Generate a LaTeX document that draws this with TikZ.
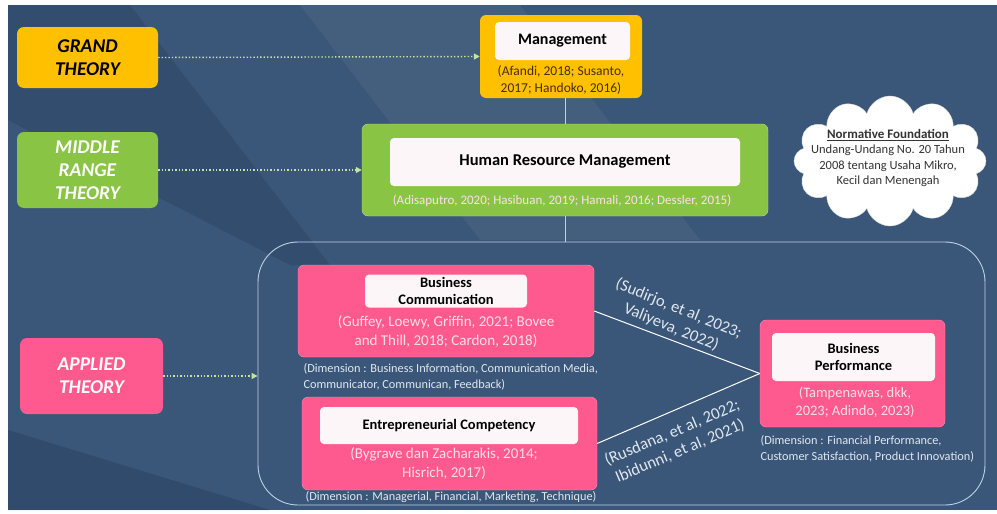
\documentclass[tikz,border=0pt]{standalone}
\usepackage{fontspec}
\setmainfont{Carlito}
\usetikzlibrary{shapes.symbols,arrows.meta}

\definecolor{bgblue}{RGB}{58,86,120}
\definecolor{bgdark}{RGB}{40,62,96}
\definecolor{gyellow}{RGB}{255,192,0}
\definecolor{mgreen}{RGB}{138,196,68}
\definecolor{apink}{RGB}{255,90,143}
\definecolor{inwhite}{RGB}{252,246,248}
\definecolor{dotgreen}{RGB}{196,228,160}
\definecolor{citebrown}{RGB}{70,45,0}
\definecolor{citelight}{RGB}{255,222,232}
\definecolor{dimtext}{RGB}{225,232,240}
\definecolor{framecol}{RGB}{190,210,230}

\begin{document}
\begin{tikzpicture}[x=1pt,y=-1pt,
  theory/.style={rounded corners=7pt, inner sep=0pt, align=center,
    minimum width=141pt, font=\fontsize{19.5}{23}\selectfont\bfseries\itshape},
  outer/.style={rounded corners=6pt, inner sep=0pt},
  inbox/.style={fill=inwhite, rounded corners=4pt, inner sep=0pt, align=center,
    text=black, font=\fontsize{14.5}{17}\selectfont\bfseries},
  cite/.style={align=center, font=\fontsize{15}{19}\selectfont},
  dim/.style={align=left, anchor=north west, text=dimtext,
    font=\fontsize{12.3}{15.5}\selectfont},
  dotarrow/.style={draw=dotgreen, line width=1.4pt, dotted,
    -{Triangle[length=6pt,width=6pt,fill=dotgreen]}},
  link/.style={draw=white, line width=1pt},
  rel/.style={text=dimtext, align=center, font=\fontsize{16.5}{20}\selectfont}]

\useasboundingbox (0,0) rectangle (997,514);
\fill[bgblue] (8,5) rectangle (997,510);
\fill[bgdark, opacity=0.35] (8,5) -- (130,5) -- (330,265) -- (290,265) -- (8,120) -- cycle;
\fill[bgdark, opacity=0.45] (8,430) -- (8,510) -- (270,510) -- cycle;
\fill[white, opacity=0.05] (300,5) -- (520,5) -- (700,240) -- (480,240) -- cycle;

\node[theory, fill=gyellow, text=black, minimum height=61pt] (grand) at (87.5,57.5) {GRAND\\THEORY};
\node[theory, fill=mgreen, text=white, minimum height=76pt] (middle) at (87.5,170) {MIDDLE\\RANGE\\THEORY};
\node[theory, fill=apink, text=white, minimum width=143pt, minimum height=76pt] (applied) at (91.5,376) {APPLIED\\THEORY};

\node[outer, fill=gyellow, minimum width=162pt, minimum height=83pt] (mgmt) at (561,56.5) {};
\node[inbox, font=\fontsize{16}{18}\selectfont\bfseries, minimum width=135pt, minimum height=38pt] (mgmtin) at (562.5,41) {Management};
\node[cite, text=citebrown, font=\fontsize{13.5}{17}\selectfont] (mgmtcite) at (561,80.5) {(Afandi, 2018; Susanto,\\2017; Handoko, 2016)};

\node[outer, fill=mgreen, draw=mgreen!60!white, minimum width=406pt, minimum height=92pt] (hrm) at (565,170) {};
\node[inbox, font=\fontsize{16.5}{19}\selectfont\bfseries, minimum width=350pt, minimum height=48pt] (hrmin) at (565,162) {Human Resource Management};
\node[cite, text=citelight, font=\fontsize{13}{15}\selectfont] (hrmcite) at (562,201) {(Adisaputro, 2020; Hasibuan, 2019; Hamali, 2016; Dessler, 2015)};

\node[cloud, cloud puffs=12, aspect=1.5, fill=white, draw=white!85!black, minimum width=192pt, minimum height=130pt] (norm) at (890,161) {};
\node[align=center, text=black!80, font=\fontsize{12.5}{15.5}\selectfont] (normtext) at (888,158)
  {{\fontsize{13}{15.5}\selectfont\bfseries\underline{Normative Foundation}}\\Undang-Undang No. 20 Tahun\\2008 tentang Usaha Mikro,\\Kecil dan Menengah};

\node[draw=framecol, line width=0.9pt, rounded corners=40pt, minimum width=727pt, minimum height=263pt] (frame) at (621.5,373.5) {};

\node[outer, fill=apink, draw=apink!70!white, minimum width=296pt, minimum height=92pt] (bc) at (446,311) {};
\node[inbox, minimum width=162pt, minimum height=33pt] (bcin) at (446,291) {Business\\Communication};
\node[cite, text=citelight] (bccite) at (446,332) {(Guffey, Loewy, Griffin, 2021; Bovee\\and Thill, 2018; Cardon, 2018)};
\node[dim] (bcdim) at (300,360) {(Dimension : Business Information, Communication Media,\\Communicator, Communican, Feedback)};

\node[outer, fill=apink, draw=apink!70!white, minimum width=295pt, minimum height=93pt] (ec) at (449.5,443.5) {};
\node[inbox, minimum width=258pt, minimum height=37pt] (ecin) at (449,425.5) {Entrepreneurial Competency};
\node[cite, text=citelight] (eccite) at (444,464) {(Bygrave dan Zacharakis, 2014;\\Hisrich, 2017)};
\node[dim, anchor=center] (ecdim) at (451,497.5) {(Dimension : Managerial, Financial, Marketing, Technique)};

\node[outer, fill=apink, draw=apink!70!white, minimum width=185pt, minimum height=107pt] (bp) at (852.5,373.5) {};
\node[inbox, minimum width=163pt, minimum height=48pt] (bpin) at (853.5,357) {Business\\Performance};
\node[cite, text=citelight, font=\fontsize{14.5}{18}\selectfont] (bpcite) at (855,402) {(Tampenawas, dkk,\\2023; Adindo, 2023)};
\node[dim] (bpdim) at (757,432) {(Dimension : Financial Performance,\\Customer Satisfaction, Product Innovation)};

\draw[dotarrow] (grand.east) -- (mgmt.west);
\draw[dotarrow] (middle.east) -- (hrm.west);
\draw[dotarrow] (applied.east) -- (frame.west |- applied.east);

\draw[framecol, line width=0.8pt] (hrm.north) -- (hrm.north |- mgmt.south);
\draw[framecol, line width=0.8pt] (hrm.south) -- (hrm.south |- frame.north);

\draw[link] (bc.east) -- (bp.west);
\draw[link] (ec.east) -- (bp.west);
\node[rel, rotate=-22] (sudirjo) at (675,318) {(Sudirjo, et al, 2023;\\Valiyeva, 2022)};
\node[rel, rotate=23] (rusdana) at (676,442) {(Rusdana, et al, 2022;\\Ibidunni, et al, 2021)};
\end{tikzpicture}
\end{document}
